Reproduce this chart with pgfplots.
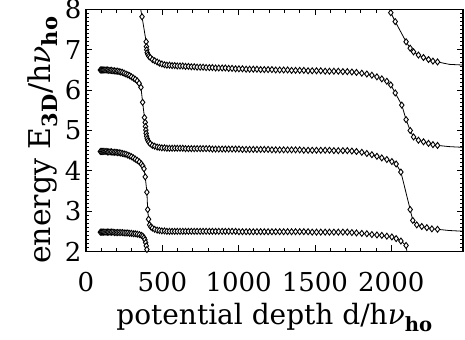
\documentclass[border=0pt]{standalone}
\usepackage{fontspec}
\setmainfont{DejaVu Serif}
\usepackage{pgfplots}
\pgfplotsset{compat=1.18}
\pgfplotsset{curve/.style={black, line width=0.8pt, mark=diamond*, mark size=3pt, mark options={solid, fill=white, line width=0.9pt}}}
\begin{document}
\begin{tikzpicture}
\begin{axis}[name=ax, width=377pt, height=242pt, scale only axis,
 xmin=0, xmax=2470, ymin=2, ymax=8,
 xtick={0,500,1000,1500,2000}, ytick={2,3,4,5,6,7,8},
 minor x tick num=4, minor y tick num=9,
 tick align=inside, major tick length=6pt, minor tick length=3.5pt,
 tick style={black, line width=0.8pt},
 axis line style={line width=1.2pt},
 /pgf/number format/assume math mode=true,
 /pgf/number format/set thousands separator={},
 ticklabel style={font=\fontsize{26}{30}\selectfont},
 xticklabel style={yshift=-17pt},
 yticklabel style={xshift=-1pt},
 label style={font=\fontsize{28}{32}\selectfont},
 xlabel={potential depth d/h\textit{ν}\textsubscript{\textbf{ho}}},
 ylabel={energy E\textsubscript{\textbf{3D}}/h\textit{ν}\textsubscript{\textbf{ho}}},
 xlabel style={yshift=-5pt},
 ylabel style={font=\fontsize{30}{34}\selectfont, at={(ticklabel cs:0.46)}},
]
% lowest left branch
\addplot[curve] coordinates {(94,2.48)(101,2.48)(109,2.48)(116,2.48)(124,2.48)(132,2.48)(141,2.48)(149,2.48)(158,2.48)(167,2.48)(177,2.48)(187,2.47)(197,2.47)(207,2.47)(217,2.47)(228,2.47)(239,2.47)(250,2.46)(262,2.46)(274,2.46)(286,2.45)(298,2.45)(311,2.44)(323,2.44)(336,2.43)(350,2.42)(363,2.40)(372,2.38)(380,2.34)(386,2.29)(391,2.22)(395,2.14)(399,2.05)(403,1.95)(406,1.85)};
% 4.5 -> 2.5 branch
\addplot[curve] coordinates {(94,4.48)(101,4.48)(109,4.48)(116,4.48)(124,4.48)(132,4.48)(141,4.47)(149,4.47)(158,4.47)(167,4.47)(177,4.46)(187,4.46)(197,4.46)(207,4.45)(217,4.45)(228,4.44)(239,4.43)(250,4.42)(262,4.41)(274,4.39)(286,4.37)(298,4.35)(311,4.32)(323,4.29)(336,4.26)(350,4.22)(363,4.17)(372,4.12)(380,4.05)(388,3.85)(399,3.47)(404,3.04)(410,2.80)(417,2.66)(425,2.61)(435,2.58)(450,2.55)(466,2.53)(481,2.52)(497,2.51)(514,2.51)(530,2.50)
(547,2.50)(564,2.50)(581,2.50)(598,2.50)(616,2.50)(634,2.50)(652,2.50)(671,2.50)(690,2.50)(709,2.50)(728,2.50)(748,2.50)(767,2.50)(787,2.50)(808,2.50)(828,2.50)(849,2.50)(870,2.50)(892,2.50)(913,2.50)(935,2.50)(957,2.50)(980,2.50)(1002,2.49)(1025,2.49)(1049,2.49)(1072,2.49)(1096,2.49)(1120,2.49)(1144,2.49)(1168,2.49)(1193,2.49)(1218,2.49)(1243,2.49)(1269,2.49)(1295,2.49)(1321,2.49)(1347,2.49)(1373,2.49)(1400,2.49)(1427,2.49)(1455,2.49)(1482,2.48)(1510,2.48)(1538,2.48)(1567,2.48)(1595,2.48)(1624,2.48)(1653,2.48)(1683,2.48)(1712,2.48)(1742,2.47)(1772,2.46)(1807,2.45)(1840,2.44)(1873,2.42)(1906,2.41)(1938,2.40)(1971,2.38)(2004,2.36)(2032,2.32)(2063,2.26)(2097,2.15)(2106,1.90)};
% 6.5 -> 4.5 -> 2.5 branch
\addplot[curve] coordinates {(94,6.50)(101,6.50)(109,6.50)(116,6.50)(124,6.50)(132,6.50)(141,6.50)(149,6.49)(158,6.49)(167,6.49)(177,6.48)(187,6.48)(197,6.47)(207,6.47)(217,6.46)(228,6.45)(239,6.44)(250,6.42)(262,6.40)(274,6.38)(286,6.36)(298,6.33)(311,6.30)(323,6.27)(336,6.23)(348,6.17)(360,6.07)(371,5.70)(383,5.32)(388,5.20)(390,5.10)(392,5.01)(394,4.93)(397,4.86)(401,4.80)(406,4.75)(412,4.71)(421,4.67)(435,4.63)(450,4.61)(466,4.59)(481,4.58)(497,4.57)(514,4.57)(530,4.56)
(547,4.56)(564,4.56)(581,4.56)(598,4.56)(616,4.56)(634,4.56)(652,4.55)(671,4.55)(690,4.55)(709,4.55)(728,4.55)(748,4.55)(767,4.55)(787,4.55)(808,4.55)(828,4.54)(849,4.54)(870,4.54)(892,4.54)(913,4.54)(935,4.54)(957,4.54)(980,4.54)(1002,4.54)(1025,4.53)(1049,4.53)(1072,4.53)(1096,4.53)(1120,4.53)(1144,4.53)(1168,4.53)(1193,4.53)(1218,4.52)(1243,4.52)(1269,4.52)(1295,4.52)(1321,4.52)(1347,4.52)(1373,4.52)(1400,4.52)(1427,4.51)(1455,4.51)(1482,4.51)(1510,4.51)(1538,4.51)(1567,4.51)(1595,4.51)(1624,4.50)(1653,4.50)(1683,4.50)(1712,4.50)
(1742,4.49)(1772,4.48)(1807,4.46)(1840,4.43)(1873,4.40)(1906,4.36)(1938,4.32)(1971,4.28)(2004,4.23)(2032,4.17)(2063,3.97)(2124,3.04)(2141,2.77)(2167,2.66)(2200,2.62)(2233,2.59)(2266,2.56)(2303,2.55)};
% top-left -> 6.6 -> 4.6 branch
\addplot[curve] coordinates {(345,8.30)(367,7.82)(394,7.20)(396,7.08)(398,7.00)(401,6.93)(406,6.88)(412,6.84)(421,6.81)(435,6.76)(450,6.73)(466,6.70)(481,6.67)(497,6.65)(514,6.63)(530,6.62)
(547,6.62)(564,6.61)(581,6.61)(598,6.60)(616,6.60)(634,6.60)(652,6.59)(671,6.59)(690,6.58)(709,6.58)(728,6.57)(748,6.57)(767,6.57)(787,6.56)(808,6.56)(828,6.56)(849,6.55)(870,6.55)(892,6.55)(913,6.55)(935,6.54)(957,6.54)(980,6.53)(1002,6.53)(1025,6.53)(1049,6.52)(1072,6.52)(1096,6.52)(1120,6.52)(1144,6.51)(1168,6.51)(1193,6.51)(1218,6.51)(1243,6.50)(1269,6.50)(1295,6.50)(1321,6.50)(1347,6.49)(1373,6.49)(1400,6.49)(1427,6.49)(1455,6.48)(1482,6.48)(1510,6.48)(1538,6.48)(1567,6.47)(1595,6.47)(1624,6.47)(1653,6.47)(1683,6.46)(1712,6.46)
(1742,6.45)(1772,6.44)(1807,6.42)(1840,6.40)(1873,6.37)(1906,6.33)(1938,6.28)(1971,6.22)(1997,6.13)(2026,5.93)(2069,5.63)(2097,5.27)(2124,5.00)(2146,4.84)(2178,4.76)(2211,4.72)(2244,4.68)(2273,4.65)(2303,4.63)};
% top-right branch
\addplot[curve] coordinates {(1965,8.30)(1997,7.92)(2026,7.70)(2097,7.20)(2124,7.04)(2146,6.95)(2178,6.87)(2211,6.81)(2244,6.76)(2273,6.72)(2303,6.70)};
% unmarked tails
\addplot[black, line width=0.8pt, no marks] coordinates {(2303,6.70)(2380,6.64)(2480,6.62)};
\addplot[black, line width=0.8pt, no marks] coordinates {(2303,4.63)(2380,4.60)(2480,4.58)};
\addplot[black, line width=0.8pt, no marks] coordinates {(2303,2.55)(2380,2.52)(2480,2.50)};
\end{axis}
\pgfresetboundingbox
\path[use as bounding box] ([shift={(-86pt,-88pt)}]ax.south west) rectangle ([shift={(2pt,9.5pt)}]ax.north east);
\end{tikzpicture}
\end{document}
